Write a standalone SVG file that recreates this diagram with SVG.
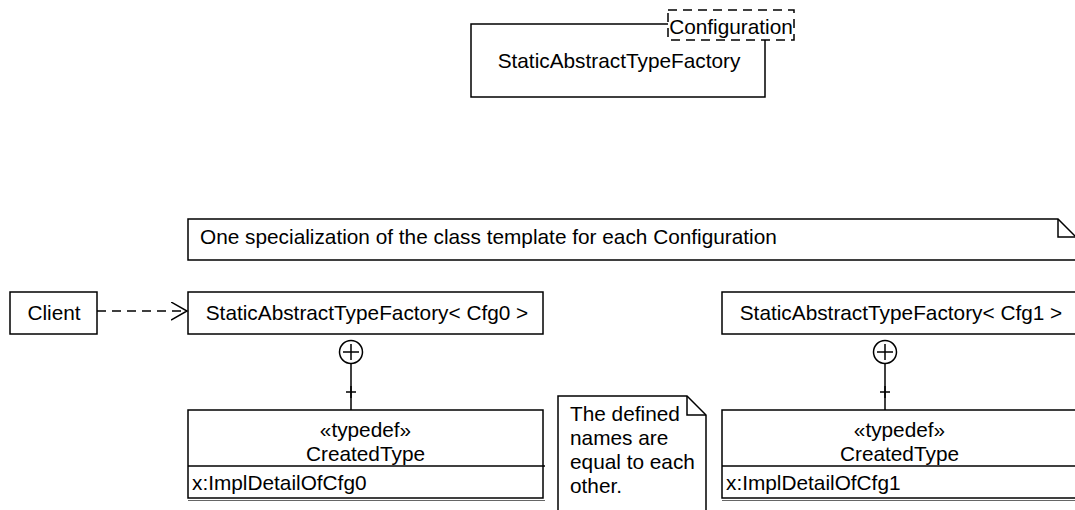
<svg xmlns="http://www.w3.org/2000/svg" width="1075" height="510" viewBox="0 0 1075 510">
<style>
  text { font-family: "Liberation Sans", Arial, sans-serif; font-size: 20.8px; fill: #000; }
  .c { text-anchor: middle; }
  .s { fill: #fff; stroke: #000; stroke-width: 1.5; }
  .l { fill: none; stroke: #000; stroke-width: 1.5; }
  .d { fill: none; stroke: #000; stroke-width: 1.5; stroke-dasharray: 9 6; }
</style>
<defs>
  <marker id="open" markerWidth="18" markerHeight="20" refX="16" refY="9" orient="auto" markerUnits="userSpaceOnUse">
    <path d="M0,0 L16,9 L0,18" fill="none" stroke="#000" stroke-width="1.5"/>
  </marker>
</defs>
<rect width="1075" height="510" fill="#fff"/>

<g id="template">
  <path class="l" d="M668,24 H471 V97 H765 V40"/>
  <rect class="d" x="668" y="10" width="126" height="30" fill="#fff" stroke-dasharray="7 5"/>
  <text class="c" x="731" y="34">Configuration</text>
  <text class="c" x="619" y="68">StaticAbstractTypeFactory</text>
</g>

<g id="note1">
  <path class="s" d="M188,219 H1058 L1077,238 V260 H188 Z"/>
  <path class="l" d="M1058,219 V237 H1077"/>
  <text x="200" y="244">One specialization of the class template for each Configuration</text>
</g>

<g id="client">
  <rect class="s" x="10" y="292" width="87" height="42"/>
  <text class="c" x="54" y="320">Client</text>
</g>

<g id="factory0">
  <rect class="s" x="188" y="292" width="355" height="42"/>
  <text class="c" x="367" y="320">StaticAbstractTypeFactory&lt; Cfg0 &gt;</text>
</g>

<g id="factory1">
  <rect class="s" x="722" y="292" width="355" height="42"/>
  <text class="c" x="901" y="320">StaticAbstractTypeFactory&lt; Cfg1 &gt;</text>
</g>

<g id="created0">
  <rect class="s" x="188" y="410" width="355" height="88"/>
  <line class="l" x1="188" y1="466" x2="545" y2="466"/>
  <line x1="188" y1="500.5" x2="545" y2="500.5" stroke="#666" stroke-width="1.2"/>
  <text class="c" x="365.5" y="437">«typedef»</text>
  <text class="c" x="365.5" y="461">CreatedType</text>
  <text x="192" y="490">x:ImplDetailOfCfg0</text>
</g>

<g id="created1">
  <rect class="s" x="722" y="410" width="355" height="88"/>
  <line class="l" x1="722" y1="466" x2="1077" y2="466"/>
  <line x1="722" y1="500.5" x2="1077" y2="500.5" stroke="#666" stroke-width="1.2"/>
  <text class="c" x="899.5" y="437">«typedef»</text>
  <text class="c" x="899.5" y="461">CreatedType</text>
  <text x="726" y="490">x:ImplDetailOfCfg1</text>
</g>

<g id="note2">
  <path class="s" d="M558,512 V396 H687 L706,415 V512"/>
  <path class="l" d="M687,396 V415 H706"/>
  <text x="570" y="421">The defined</text>
  <text x="570" y="445">names are</text>
  <text x="570" y="469">equal to each</text>
  <text x="570" y="493">other.</text>
</g>

<g id="connectors">
  <line class="d" x1="97" y1="311" x2="187" y2="311" marker-end="url(#open)"/>
  <circle class="s" cx="351" cy="352" r="11.5"/>
  <path class="l" d="M343,352 H359 M351,344 V360"/>
  <line class="l" x1="351" y1="363.5" x2="351" y2="410"/>
  <path class="l" d="M346,392 H356 M351,386 V398" stroke-width="2.2"/>
  <circle class="s" cx="885" cy="352" r="11.5"/>
  <path class="l" d="M877,352 H893 M885,344 V360"/>
  <line class="l" x1="885" y1="363.5" x2="885" y2="410"/>
  <path class="l" d="M880,392 H890 M885,386 V398" stroke-width="2.2"/>
</g>
</svg>
